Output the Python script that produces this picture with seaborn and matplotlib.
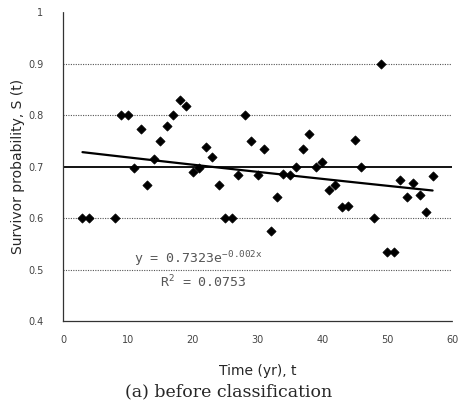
import numpy as np
import pandas as pd
import matplotlib.pyplot as plt
import seaborn as sns

# survivor probability
t = [3, 4, 8, 9, 10, 11, 12, 13, 14, 15, 16, 17, 18, 19, 20, 21, 22, 23, 24, 25,
     26, 27, 28, 29, 30, 31, 32, 33, 34, 35, 36, 37, 38, 39, 40, 41, 42, 43, 44,
     45, 46, 48, 49, 50, 51, 52, 53, 54, 55, 56, 57]
S = [0.60, 0.60, 0.60, 0.80, 0.80, 0.697, 0.772, 0.664, 0.714, 0.749, 0.779,
     0.80, 0.83, 0.817, 0.69, 0.697, 0.738, 0.719, 0.664, 0.60, 0.60, 0.683,
     0.80, 0.749, 0.683, 0.734, 0.575, 0.641, 0.686, 0.683, 0.699, 0.734,
     0.764, 0.699, 0.708, 0.655, 0.665, 0.621, 0.623, 0.751, 0.699, 0.60,
     0.90, 0.534, 0.534, 0.673, 0.641, 0.668, 0.644, 0.611, 0.682]

# exponential trend shown on the chart
a, b = 0.7323, -0.002
x_ticks = [0, 10, 20, 30, 40, 50, 60]
y_ticks = [0.4, 0.5, 0.6, 0.7, 0.8, 0.9, 1.0]
y_ticklabels = ['0.4', '0.5', '0.6', '0.7', '0.8', '0.9', '1']

df = pd.DataFrame({'t': t, 'S': S})
tt = np.linspace(min(t), max(t), 100)
trend = pd.DataFrame({'t': tt, 'S': a * np.exp(b * tt)})

sns.set_style('white')
fig = plt.figure(figsize=(4.58, 4.15), dpi=100)
ax = fig.add_axes([0.1376, 0.2265, 0.8494, 0.7445])

# dotted grid lines + solid line at 0.7
for yv in [0.5, 0.6, 0.8, 0.9]:
    ax.axhline(yv, color='#555555', lw=0.8, ls=(0, (1, 1.2)), zorder=1)
ax.axhline(0.7, color='black', lw=1.3, zorder=1)

sns.scatterplot(data=df, x='t', y='S', marker='D', s=22, color='black',
                edgecolor='black', linewidth=0.5, ax=ax, zorder=3)
sns.lineplot(data=trend, x='t', y='S', color='black', lw=1.6, ax=ax, zorder=2)

ax.set_xlim(0, 60)
ax.set_ylim(0.4, 1.0)
ax.set_xticks(x_ticks)
ax.set_yticks(y_ticks)
ax.set_yticklabels(y_ticklabels)
ax.tick_params(axis='both', labelsize=7, colors='#444444', length=2, pad=12)
ax.tick_params(axis='x', pad=8)

for side in ['top', 'right']:
    ax.spines[side].set_visible(False)
for side in ['left', 'bottom']:
    ax.spines[side].set_linestyle((0, (1, 1)))
    ax.spines[side].set_color('#333333')
    ax.spines[side].set_linewidth(0.9)

ax.set_xlabel('Time (yr), t', fontsize=10, labelpad=14)
ax.set_ylabel('Survivor probability, S (t)', fontsize=10, labelpad=2)

# regression equation
ax.text(11, 0.512, r'y = 0.7323e$^{\mathregular{-0.002x}}$', fontsize=9.5,
        color='#555555', family='DejaVu Sans Mono')
ax.text(15, 0.465, r'R$^{\mathregular{2}}$ = 0.0753', fontsize=9.5,
        color='#555555', family='DejaVu Sans Mono')

fig.text(0.5, 0.045, '(a) before classification', ha='center', fontsize=12.5,
         family='DejaVu Serif')

plt.savefig('out.png', dpi=100)
